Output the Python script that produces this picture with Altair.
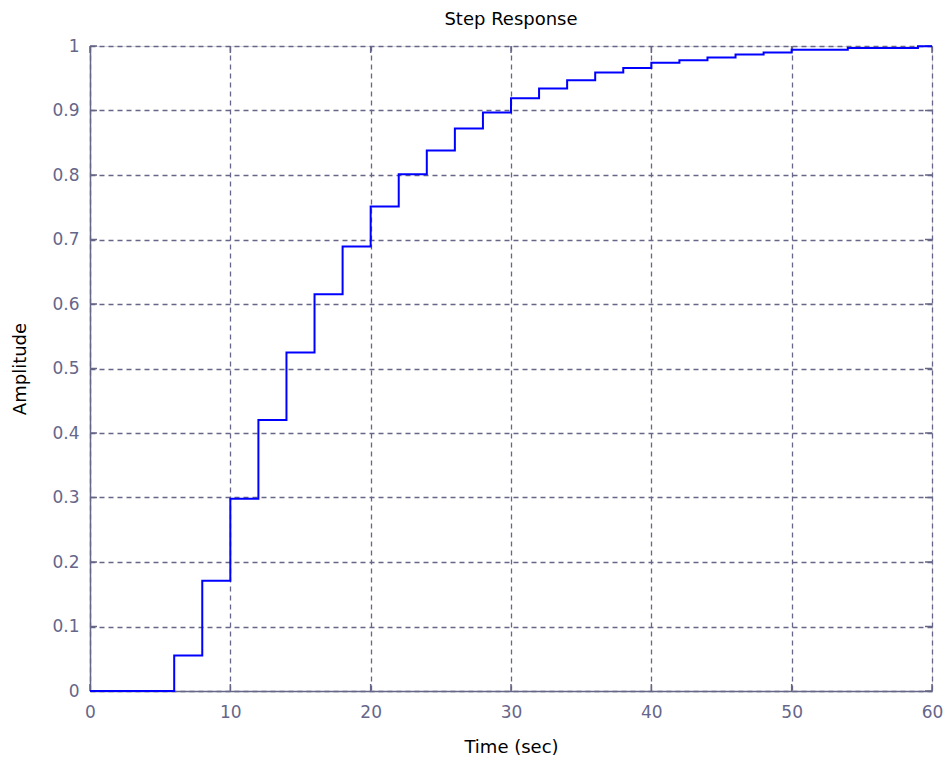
import altair as alt
import pandas as pd

# Step response samples (time in sec, amplitude), step-after
step_times = [0, 6, 8, 10, 12, 14, 16, 18, 20, 22, 24, 26, 28, 30, 32, 34, 36, 38,
              40, 42, 44, 46, 48, 50, 54, 59, 60]
amplitude = [0, 0.055, 0.171, 0.298, 0.420, 0.525, 0.615, 0.689, 0.751, 0.801, 0.838,
             0.872, 0.897, 0.919, 0.934, 0.947, 0.959, 0.966, 0.974, 0.978, 0.982,
             0.987, 0.990, 0.994, 0.997, 0.9995, 0.9995]

x_ticks = [0, 10, 20, 30, 40, 50, 60]
y_ticks = [0, 0.1, 0.2, 0.3, 0.4, 0.5, 0.6, 0.7, 0.8, 0.9, 1]

AX = "#666688"
LAB = "#66668a"
W, H = 842, 645

df = pd.DataFrame({"t": step_times, "a": amplitude})
xt = pd.DataFrame({"v": x_ticks})
yt = pd.DataFrame({"v": y_ticks})

xscale = alt.Scale(domain=[0, 60], nice=False, zero=False)
yscale = alt.Scale(domain=[0, 1], nice=False, zero=False)

common = dict(grid=True, gridDash=[5, 4], gridColor=AX, gridOpacity=1, gridWidth=1.3,
              tickSize=0, labelFlush=False, labelBound=False,
              domainColor=AX, domainWidth=1.5,
              labelColor=LAB, labelFont="DejaVu Sans", labelFontSize=17,
              titleFont="DejaVu Sans", titleFontSize=18, titleFontWeight="normal",
              titleColor="#000000")

line = alt.Chart(df).mark_line(
    interpolate="step-after", color="#0000ff", strokeWidth=2, clip=False
).encode(
    x=alt.X("t:Q", scale=xscale, title="Time (sec)",
            axis=alt.Axis(values=x_ticks, format="~g", labelPadding=13, titlePadding=18,
                          **common)),
    y=alt.Y("a:Q", scale=yscale, title="Amplitude",
            axis=alt.Axis(values=y_ticks, format="~g", labelPadding=11, titlePadding=22,
                          **common)),
)

tick_bottom = alt.Chart(xt).mark_rule(color=AX, strokeWidth=1.5).encode(
    x=alt.X("v:Q", scale=xscale), y=alt.value(H), y2=alt.value(H - 7))
tick_top = alt.Chart(xt).mark_rule(color=AX, strokeWidth=1.5).encode(
    x=alt.X("v:Q", scale=xscale), y=alt.value(0), y2=alt.value(7))
tick_left = alt.Chart(yt).mark_rule(color=AX, strokeWidth=1.5).encode(
    y=alt.Y("v:Q", scale=yscale), x=alt.value(0), x2=alt.value(7))
tick_right = alt.Chart(yt).mark_rule(color=AX, strokeWidth=1.5).encode(
    y=alt.Y("v:Q", scale=yscale), x=alt.value(W), x2=alt.value(W - 7))

chart = alt.layer(tick_bottom, tick_top, tick_left, tick_right, line).properties(
    width=W, height=H,
    title=alt.TitleParams("Step Response", font="DejaVu Sans", fontSize=18,
                          fontWeight="normal", color="#000000", offset=8),
    autosize=alt.AutoSizeParams(type="none"),
    padding={"left": 90, "top": 46, "right": 16, "bottom": 71},
).configure_view(
    stroke=AX, strokeWidth=1.5
).configure(background="#ffffff")

chart.save("out.html", embed_options={"renderer": "svg", "actions": False})
